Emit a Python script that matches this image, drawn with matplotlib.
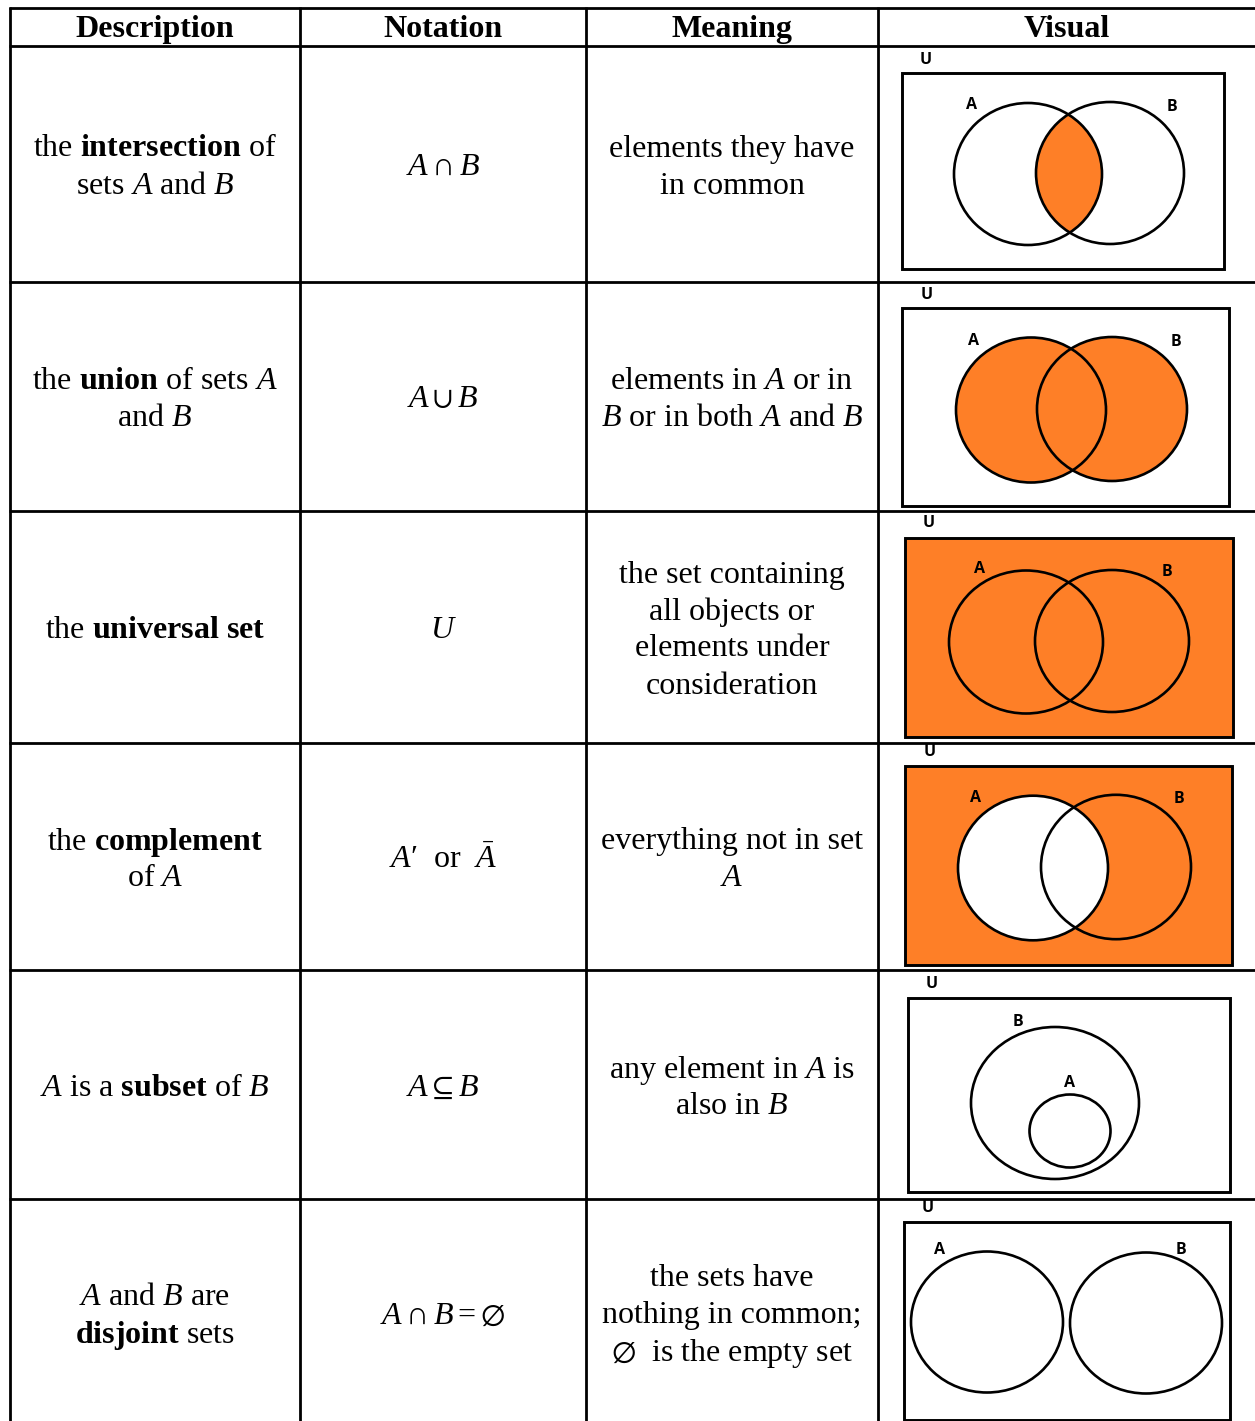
import matplotlib
matplotlib.use("Agg")
import matplotlib.pyplot as plt
from matplotlib.patches import Ellipse, Rectangle

plt.rcParams['font.family'] = ['Liberation Serif', 'DejaVu Serif']
plt.rcParams['mathtext.fontset'] = 'custom'
plt.rcParams['mathtext.rm'] = 'Liberation Serif'
plt.rcParams['mathtext.it'] = 'Liberation Serif:italic'
plt.rcParams['mathtext.bf'] = 'Liberation Serif:bold'
plt.rcParams['mathtext.fallback'] = 'stix'

# ---------------- data (table content) ----------------
headers = ["Description", "Notation", "Meaning", "Visual"]

descriptions = [
    [r"the $\mathbf{intersection}$ of", r"sets $A$ and $B$"],
    [r"the $\mathbf{union}$ of sets $A$", r"and $B$"],
    [r"the $\mathbf{universal}$ $\mathbf{set}$"],
    [r"the $\mathbf{complement}$", r"of $A$"],
    [r"$A$ is a $\mathbf{subset}$ of $B$"],
    [r"$A$ and $B$ are", r"$\mathbf{disjoint}$ sets"],
]

notations = [
    r"$A\cap B$",
    r"$A\cup B$",
    r"$U$",
    "$A$\u2032  or  $\\bar{A}$",
    r"$A\subseteq B$",
    r"$A\cap B=\varnothing$",
]

meanings = [
    ["elements they have", "in common"],
    [r"elements in $A$ or in", r"$B$ or in both $A$ and $B$"],
    ["the set containing", "all objects or", "elements under", "consideration"],
    ["everything not in set", r"$A$"],
    [r"any element in $A$ is", r"also in $B$"],
    ["the sets have", "nothing in common;", r"$\varnothing$  is the empty set"],
]

venn_kinds = ["intersection", "union", "universal", "complement", "subset", "disjoint"]
set_labels = ["U", "A", "B"]

# ---------------- layout (pixels) ----------------
W, H = 1255, 1421
col_x = [10, 300, 586, 878]
row_y = [8, 46, 282, 511, 743, 970, 1199]
col_cx = [155, 443, 732, 1067]
line_gap = 37

venn_geom = [
    dict(rect=(902, 73, 1224, 269), U=(926, 60),
         A=(1028, 174, 74, 71), B=(1110, 173, 74, 71), La=(971, 105), Lb=(1172, 107)),
    dict(rect=(902, 308, 1229, 506), U=(927, 295),
         A=(1031, 410, 75, 72.5), B=(1112, 409, 75, 72), La=(973, 341), Lb=(1176, 342)),
    dict(rect=(905, 538, 1233, 737), U=(929, 523),
         A=(1026, 642, 77, 71.5), B=(1112, 641, 77, 71), La=(979, 569), Lb=(1167, 572)),
    dict(rect=(905, 766, 1232, 965), U=(930, 752),
         A=(1033, 868, 75, 72.3), B=(1116, 867, 75, 72.2), La=(975, 798), Lb=(1179, 799)),
    dict(rect=(908, 998, 1230, 1192), U=(932, 984),
         B=(1055, 1103, 84, 76), A=(1070, 1131, 40.5, 36.5), Lb=(1018, 1022), La=(1070, 1083)),
    dict(rect=(904, 1222, 1230, 1420), U=(928, 1208),
         A=(987, 1322, 76, 70.5), B=(1146, 1323, 76, 70.5), La=(940, 1250), Lb=(1181, 1250)),
]

ORANGE = "#fe7f27"
FS = 23
fig = plt.figure(figsize=(W / 100, H / 100), dpi=100)
ax = fig.add_axes([0, 0, 1, 1])
ax.set_xlim(0, W)
ax.set_ylim(H, 0)
ax.axis("off")

grid_lw = 2.0
for x in col_x:
    ax.plot([x, x], [row_y[0] - 1, H + 5], color="black", lw=grid_lw, solid_capstyle="butt")
for y in row_y:
    ax.plot([col_x[0] - 1, W + 5], [y, y], color="black", lw=grid_lw, solid_capstyle="butt")

for cx, h in zip(col_cx, headers):
    ax.text(cx, 37, h, ha="center", va="baseline", fontsize=FS, fontweight="bold")


def put_lines(cx, cy, lines):
    n = len(lines)
    for i, s in enumerate(lines):
        y = cy + (i - (n - 1) / 2) * line_gap
        ax.text(cx, y, s, ha="center", va="center_baseline", fontsize=FS)


for r in range(6):
    cy = (row_y[r + 1] + (row_y[r + 2] if r + 2 < len(row_y) else 1426)) / 2
    put_lines(col_cx[0], cy, descriptions[r])
    put_lines(col_cx[1], cy, [notations[r]])
    put_lines(col_cx[2], cy, meanings[r])

ell_lw = 1.9
lab_kw = dict(ha="center", va="center", fontsize=11.5, fontweight="bold",
              family=["Open Sans", "DejaVu Sans"])


def ell(p, **kw):
    return Ellipse((p[0], p[1]), 2 * p[2], 2 * p[3], transform=ax.transData, **kw)


for kind, g in zip(venn_kinds, venn_geom):
    x0, y0, x1, y1 = g["rect"]
    rect_fc = ORANGE if kind in ("universal", "complement") else "white"
    ax.add_patch(Rectangle((x0, y0), x1 - x0, y1 - y0, fc=rect_fc, ec="black", lw=2.1, zorder=2))
    if kind == "union":
        ax.add_patch(ell(g["A"], fc=ORANGE, ec="none", zorder=3))
        ax.add_patch(ell(g["B"], fc=ORANGE, ec="none", zorder=3))
    elif kind == "intersection":
        clipB = ell(g["B"])
        fillA = ell(g["A"], fc=ORANGE, ec="none", zorder=3)
        ax.add_patch(fillA)
        fillA.set_clip_path(clipB)
    elif kind == "complement":
        ax.add_patch(ell(g["A"], fc="white", ec="none", zorder=3))
    ax.add_patch(ell(g["A"], fc="none", ec="black", lw=ell_lw, zorder=4))
    ax.add_patch(ell(g["B"], fc="none", ec="black", lw=ell_lw, zorder=4))
    ax.text(g["U"][0], g["U"][1], set_labels[0], zorder=5, **lab_kw)
    ax.text(g["La"][0], g["La"][1], set_labels[1], zorder=5, **lab_kw)
    ax.text(g["Lb"][0], g["Lb"][1], set_labels[2], zorder=5, **lab_kw)

fig.savefig("out.png", dpi=100, facecolor="white")
